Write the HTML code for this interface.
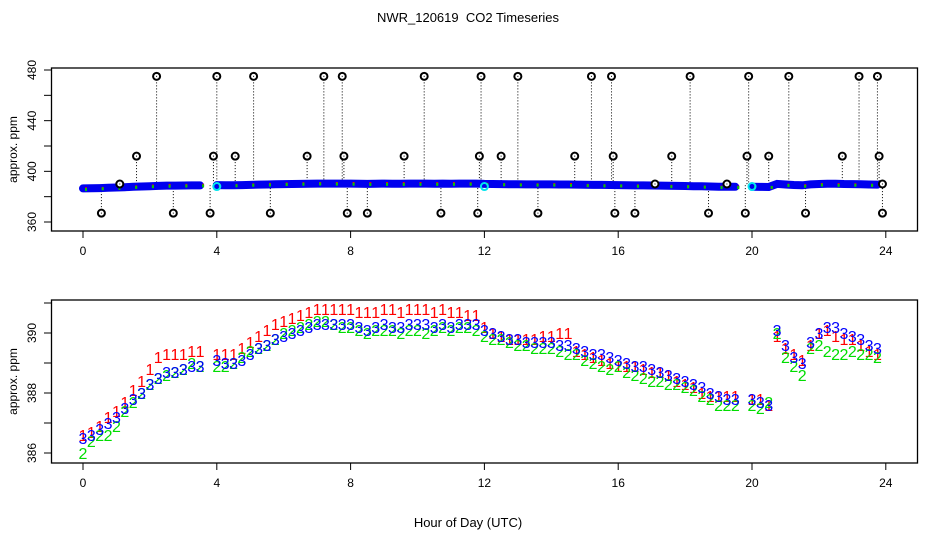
<!DOCTYPE html>
<html><head><meta charset="utf-8"><style>
body{margin:0;background:#fff}
svg{display:block;font-family:"Liberation Sans",sans-serif}
</style></head><body>
<svg id="chart" width="936" height="540" xmlns="http://www.w3.org/2000/svg">
<text x="468" y="22" text-anchor="middle" font-size="13" style="white-space:pre">NWR_120619  CO2 Timeseries</text>
<text x="468" y="527" text-anchor="middle" font-size="13">Hour of Day (UTC)</text>
<g id="topPanel"></g>
<g id="botPanel"></g>
</svg>
<script>
const hours=[0,.25,.5,.75,1,1.25,1.5,1.75,2,2.25,2.5,2.75,3,3.25,3.5,3.75,4,4.25,4.5,4.75,5,5.25,5.5,5.75,6,6.25,6.5,6.75,7,7.25,7.5,7.75,8,8.25,8.5,8.75,9,9.25,9.5,9.75,10,10.25,10.5,10.75,11,11.25,11.5,11.75,12,12.25,12.5,12.75,13,13.25,13.5,13.75,14,14.25,14.5,14.75,15,15.25,15.5,15.75,16,16.25,16.5,16.75,17,17.25,17.5,17.75,18,18.25,18.5,18.75,19,19.25,19.5,19.75,20,20.25,20.5,20.75,21,21.25,21.5,21.75,22,22.25,22.5,22.75,23,23.25,23.5,23.75];
const series3=[386.5,386.6,386.8,387.0,387.2,387.5,387.8,388.0,388.3,388.5,388.7,388.7,388.8,388.9,388.9,null,389.1,389.0,389.0,389.1,389.3,389.5,389.6,389.8,389.9,390.0,390.1,390.2,390.3,390.3,390.3,390.3,390.3,390.2,390.1,390.2,390.3,390.2,390.2,390.3,390.3,390.3,390.2,390.3,390.2,390.3,390.3,390.3,390.1,390.0,389.9,389.8,389.8,389.7,389.7,389.7,389.7,389.6,389.6,389.5,389.4,389.3,389.3,389.2,389.1,389.0,388.9,388.9,388.8,388.7,388.6,388.5,388.4,388.3,388.2,388.0,387.9,387.8,387.8,null,387.8,387.7,387.6,390.1,389.6,389.2,389.0,389.7,390.0,390.2,390.2,390.0,389.9,389.8,389.6,389.5];
const series1=[386.6,386.7,386.9,387.2,387.4,387.7,388.1,388.4,388.8,389.2,389.3,389.3,389.3,389.4,389.4,null,389.3,389.3,389.3,389.5,389.7,389.9,390.1,390.3,390.4,390.5,390.6,390.7,390.8,390.8,390.8,390.8,390.8,390.7,390.7,390.7,390.8,390.8,390.7,390.8,390.8,390.8,390.7,390.8,390.7,390.7,390.6,390.6,390.2,390.0,389.9,389.8,389.8,389.8,389.8,389.9,389.9,390.0,390.0,389.4,389.3,389.2,389.1,389.0,388.9,388.9,388.9,388.8,388.7,388.7,388.6,388.4,388.3,388.2,388.0,387.9,387.9,387.9,387.9,null,387.8,387.8,387.6,389.9,389.5,389.3,389.1,389.6,390.0,390.1,389.9,389.8,389.8,389.6,389.4,389.3];
const series2=[386.0,386.4,386.6,386.6,386.9,387.4,387.7,388.0,388.3,388.5,388.6,388.7,388.8,389.0,388.9,null,388.9,388.9,389.0,389.2,389.4,389.5,389.6,389.8,390.0,390.1,390.2,390.3,390.4,390.4,390.3,390.2,390.2,390.1,390.0,390.1,390.1,390.1,390.0,390.1,390.1,390.0,390.1,390.2,390.1,390.2,390.2,390.1,389.9,389.8,389.8,389.7,389.6,389.6,389.5,389.5,389.5,389.4,389.3,389.3,389.1,389.0,388.9,388.8,388.9,388.7,388.6,388.5,388.4,388.4,388.3,388.3,388.2,388.1,387.9,387.8,387.6,387.6,387.6,null,387.6,387.5,387.7,390.0,389.2,388.9,388.6,389.5,389.6,389.4,389.3,389.3,389.4,389.3,389.3,389.2];
const outlierHours=[2.2,4.0,5.1,7.2,7.75,10.2,11.9,13.0,15.2,15.8,18.15,19.9,21.1,23.2,23.75,1.6,3.9,4.55,6.7,7.8,9.6,11.85,12.5,14.7,15.85,17.6,19.85,20.5,22.7,23.8,0.55,2.7,3.8,5.6,7.9,8.5,10.7,11.8,13.6,15.9,16.5,18.7,19.8,21.6,23.9,1.1,17.1,19.25,23.9];
const outlierValues=[475,475,475,475,475,475,475,475,475,475,475,475,475,475,475,412,412,412,412,412,412,412,412,412,412,412,412,412,412,412,367,367,367,367,367,367,367,367,367,367,367,367,367,367,367,390,390,390,390];
const calHours=[4.0,12.0,20.0];
const calValues=[388,388,388];
const xTicks=[0,4,8,12,16,20,24];
const topTicks=[360,380,400,420,440,460,480];
const topLabels=[360,400,440,480];
const botTicks=[386,387,388,389,390,391];
const botLabels=[386,388,390];

const NS="http://www.w3.org/2000/svg";
const X=h=>83+h*33.45;
const Ytop=v=>70+(480-v)*152/120;
const Ybot=v=>303+(391-v)*30;
function el(p,tag,a){const e=document.createElementNS(NS,tag);for(const k in a)e.setAttribute(k,a[k]);p.appendChild(e);return e;}
function axes(g,y0,y1,Y,ticks,labels,name){
  const box=el(g,'rect',{x:51.5,y:y0,width:866,height:y1-y0,fill:'none',stroke:'#000','stroke-width':1.3});
  
  
  xTicks.forEach(h=>{
    el(g,'line',{x1:X(h),x2:X(h),y1:y1,y2:y1+7,stroke:'#000'});
    const t=el(g,'text',{x:X(h),y:y1+24,'text-anchor':'middle','font-size':12});
    t.textContent=h;
    
    
  });
  ticks.forEach(v=>el(g,'line',{x1:44,x2:51.5,y1:Y(v),y2:Y(v),stroke:'#000'}));
  labels.forEach(v=>{
    const t=el(g,'text',{x:0,y:0,'text-anchor':'middle','font-size':12,transform:`translate(36,${Y(v)}) rotate(-90)`});
    t.textContent=v;
    
    
  });
  const yt=el(g,'text',{x:0,y:0,'text-anchor':'middle','font-size':12,transform:`translate(17,${(y0+y1)/2}) rotate(-90)`});
  yt.textContent='approx. ppm';
  
  
}
const topG=document.getElementById('topPanel');
axes(topG,68,231,Ytop,topTicks,topLabels,'top');
outlierHours.forEach((h,i)=>{
  const idx=Math.min(hours.length-1,Math.round(h/0.25));
  const base=series3[idx]!=null?series3[idx]:389;
  const l=el(topG,'line',{x1:X(h),x2:X(h),y1:Ytop(outlierValues[i]),y2:Ytop(base),stroke:'#000','stroke-width':1,'stroke-dasharray':'1,2'});
  
  
});
{
  let d='';let pen=false;
  series3.forEach((v,i)=>{ if(v==null){pen=false;return;} d+=(pen?'L':'M')+X(hours[i]).toFixed(1)+','+Ytop(v).toFixed(1);pen=true;});
  const band=el(topG,'path',{d:d,fill:'none',stroke:'#0000ee','stroke-width':8,'stroke-linecap':'round'});
  
  
}
[[series1,'#f00'],[series2,'#0c0']].forEach(([s,c])=>{
  s.forEach((v,i)=>{ if(v==null||i%2)return;
    const p=el(topG,'rect',{x:X(hours[i])+2,y:Ytop(v)-1,width:2,height:3,fill:c});
    
    
  });
});
calHours.forEach((h,i)=>{
  const c=el(topG,'circle',{cx:X(h),cy:Ytop(calValues[i]),r:3.5,fill:'none',stroke:'#00e5ee','stroke-width':2});
  
  
});
outlierHours.forEach((h,i)=>{
  const c=el(topG,'circle',{cx:X(h),cy:Ytop(outlierValues[i]),r:3.5,fill:'#fff',stroke:'#000','stroke-width':2});
  
  
  el(topG,'rect',{x:X(h)-0.5,y:Ytop(outlierValues[i])-0.5,width:1,height:1,fill:'#000'});
});
const botG=document.getElementById('botPanel');
axes(botG,300,463,Ybot,botTicks,botLabels,'bottom');
[[series1,'#f00','1'],[series2,'#00dd00','2'],[series3,'#00f','3']].forEach(([s,c,ch])=>{
  s.forEach((v,i)=>{ if(v==null)return;
    const t=el(botG,'text',{x:X(hours[i]),y:Ybot(v)+6,'text-anchor':'middle','font-size':16,fill:c});
    t.textContent=ch;
    
    
  });
});
</script>
</body></html>
